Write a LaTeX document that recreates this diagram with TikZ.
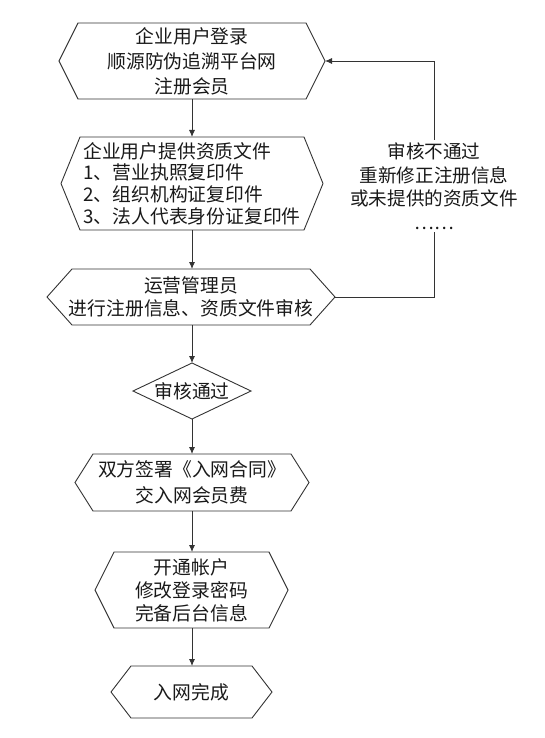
\documentclass[tikz,border=0pt]{standalone}
\usepackage{fontspec}
\setmainfont{Noto Sans CJK SC}
\usetikzlibrary{shapes.geometric, arrows.meta}

\begin{document}
\begin{tikzpicture}[x=1pt, y=-1pt,
    box/.style={inner sep=0pt, outer sep=0pt, align=center, text=black!90,
      font=\fontsize{18.8}{23}\selectfont},
    hexline/.style={draw=black!80, line width=0.9pt},
    flow/.style={draw=black!80, line width=0.9pt, -{Latex[length=7pt, width=6pt]}},
    note/.style={fill=white, inner sep=3pt, align=center, text=black!90,
      font=\fontsize{18.6}{23.5}\selectfont}]
  \useasboundingbox (0, 0) rectangle (544, 738);
  % steps of the flow
  \node[box, minimum width=266pt, minimum height=76pt, font=\fontsize{18.8}{25}\selectfont]
    (login) at (192, 61) {企业用户登录\\顺源防伪追溯平台网\\注册会员};
  \node[box, minimum width=262pt, minimum height=93pt, align=left, font=\fontsize{18.8}{21.7}\selectfont]
    (docs) at (192, 183.5) {企业用户提供资质文件\\1、营业执照复印件\\2、组织机构证复印件\\3、法人代表身份证复印件};
  \node[box, minimum width=288pt, minimum height=56pt]
    (review) at (191, 297) {运营管理员\\进行注册信息、资质文件审核};
  \node[box, diamond, aspect=2.1, draw=black!80, line width=0.9pt, minimum width=118pt, minimum height=56pt]
    (pass) at (192, 391) {审核通过};
  \node[box, minimum width=234pt, minimum height=57pt, font=\fontsize{18.8}{26}\selectfont]
    (contract) at (192, 482.5) {双方签署《入网合同》\\交入网会员费};
  \node[box, minimum width=193pt, minimum height=76pt]
    (account) at (191.5, 590) {开通帐户\\修改登录密码\\完备后台信息};
  \node[box, minimum width=161pt, minimum height=52pt]
    (done) at (191.5, 692) {入网完成};

  % hexagon outlines
  \foreach \n/\d in {login/19, docs/19, review/25, contract/18, account/19, done/20}
    \draw[hexline] ([xshift=\d pt]\n.north west) -- ([xshift=-\d pt]\n.north east) -- (\n.east)
      -- ([xshift=-\d pt]\n.south east) -- ([xshift=\d pt]\n.south west) -- (\n.west) -- cycle;

  % connectors
  \draw[flow] (login.south) -- (docs.north);
  \draw[flow] (docs.south) -- (review.north -| docs.south);
  \draw[flow] (review.south -| pass.north) -- (pass.north);
  \draw[flow] (pass.south) -- (contract.north);
  \draw[flow] (contract.south) -- (account.north -| contract.south);
  \draw[flow] (account.south -| contract.south) -- (done.north -| contract.south);
  \draw[flow] (review.east) -- ++(99, 0) coordinate (turn)
    -- node[note, pos=0.47] {审核不通过\\重新修正注册信息\\或未提供的资质文件\\……}
    (turn |- login.east) -- (login.east);
\end{tikzpicture}
\end{document}
